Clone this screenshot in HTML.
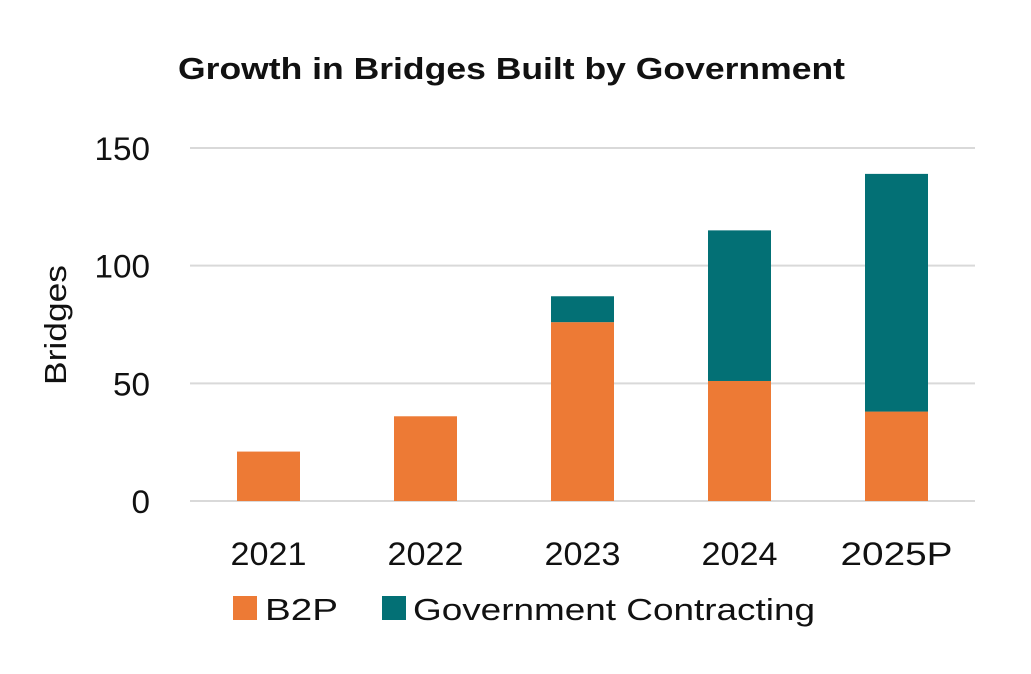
<!DOCTYPE html>
<html><head><meta charset="utf-8"><style>
body{margin:0;background:#fff;}
svg text{font-family:"Liberation Sans",sans-serif;fill:#111;}
</style></head><body>
<svg width="1031" height="669" viewBox="0 0 1031 669">
<text x="178" y="79" font-size="31" font-weight="bold" textLength="667" lengthAdjust="spacingAndGlyphs">Growth in Bridges Built by Government</text>
<g id="grid"></g>
<g id="bars"></g>
<g id="yticks"></g>
<g id="xticks"></g>
<text transform="translate(66,265) rotate(-90)" text-anchor="end" font-size="31" textLength="120" lengthAdjust="spacingAndGlyphs">Bridges</text>
<g>
<rect x="233" y="596" width="24" height="24" fill="#ED7A35"></rect>
<text x="265" y="620" font-size="31" textLength="73" lengthAdjust="spacingAndGlyphs">B2P</text>
<rect x="382" y="596" width="24" height="24" fill="#037075"></rect>
<text x="413" y="620" font-size="31" textLength="402" lengthAdjust="spacingAndGlyphs">Government Contracting</text>
</g>
</svg>
<script>
const categories=["2021","2022","2023","2024","2025P"];
const b2p=[21,36,76,51,38];
const gov=[0,0,11,64,101];
const yTicks=[0,50,100,150];
const NS="http://www.w3.org/2000/svg";
const plotL=190,plotR=975,y0=501,y150=148;
const yScale=v=>y0-(v/150)*(y0-y150);
const band=(plotR-plotL)/categories.length;
const xCenter=i=>plotL+band*(i+0.5);
const bw=63;
function mk(tag,attrs,parent){const e=document.createElementNS(NS,tag);for(const k in attrs)e.setAttribute(k,attrs[k]);parent.appendChild(e);return e;}
const grid=document.getElementById('grid'),yt=document.getElementById('yticks'),bars=document.getElementById('bars'),xt=document.getElementById('xticks');
yTicks.forEach(t=>{
 const l=mk('line',{x1:plotL,x2:plotR,y1:yScale(t),y2:yScale(t),stroke:'#d9d9d9','stroke-width':2},grid);
 
 
 const s=String(t);
 const tx=mk('text',{x:150,y:yScale(t)+12,'text-anchor':'end','font-size':32,textLength:s.length*18.5,lengthAdjust:'spacingAndGlyphs'},yt);
 tx.textContent=s;
 
 
});
categories.forEach((c,i)=>{
 const x=xCenter(i)-bw/2;
 const r1=mk('rect',{x:x,y:yScale(b2p[i]),width:bw,height:y0-yScale(b2p[i]),fill:'#ED7A35'},bars);
 
 
 if(gov[i]>0){
  const r2=mk('rect',{x:x,y:yScale(b2p[i]+gov[i]),width:bw,height:yScale(b2p[i])-yScale(b2p[i]+gov[i]),fill:'#037075'},bars);
  
  
 }
 const tx=mk('text',{x:xCenter(i),y:565,'text-anchor':'middle','font-size':32,textLength:c.length*19+(c.length>4?17:0),lengthAdjust:'spacingAndGlyphs'},xt);
 tx.textContent=c;
 
 
});
</script>
</body></html>
